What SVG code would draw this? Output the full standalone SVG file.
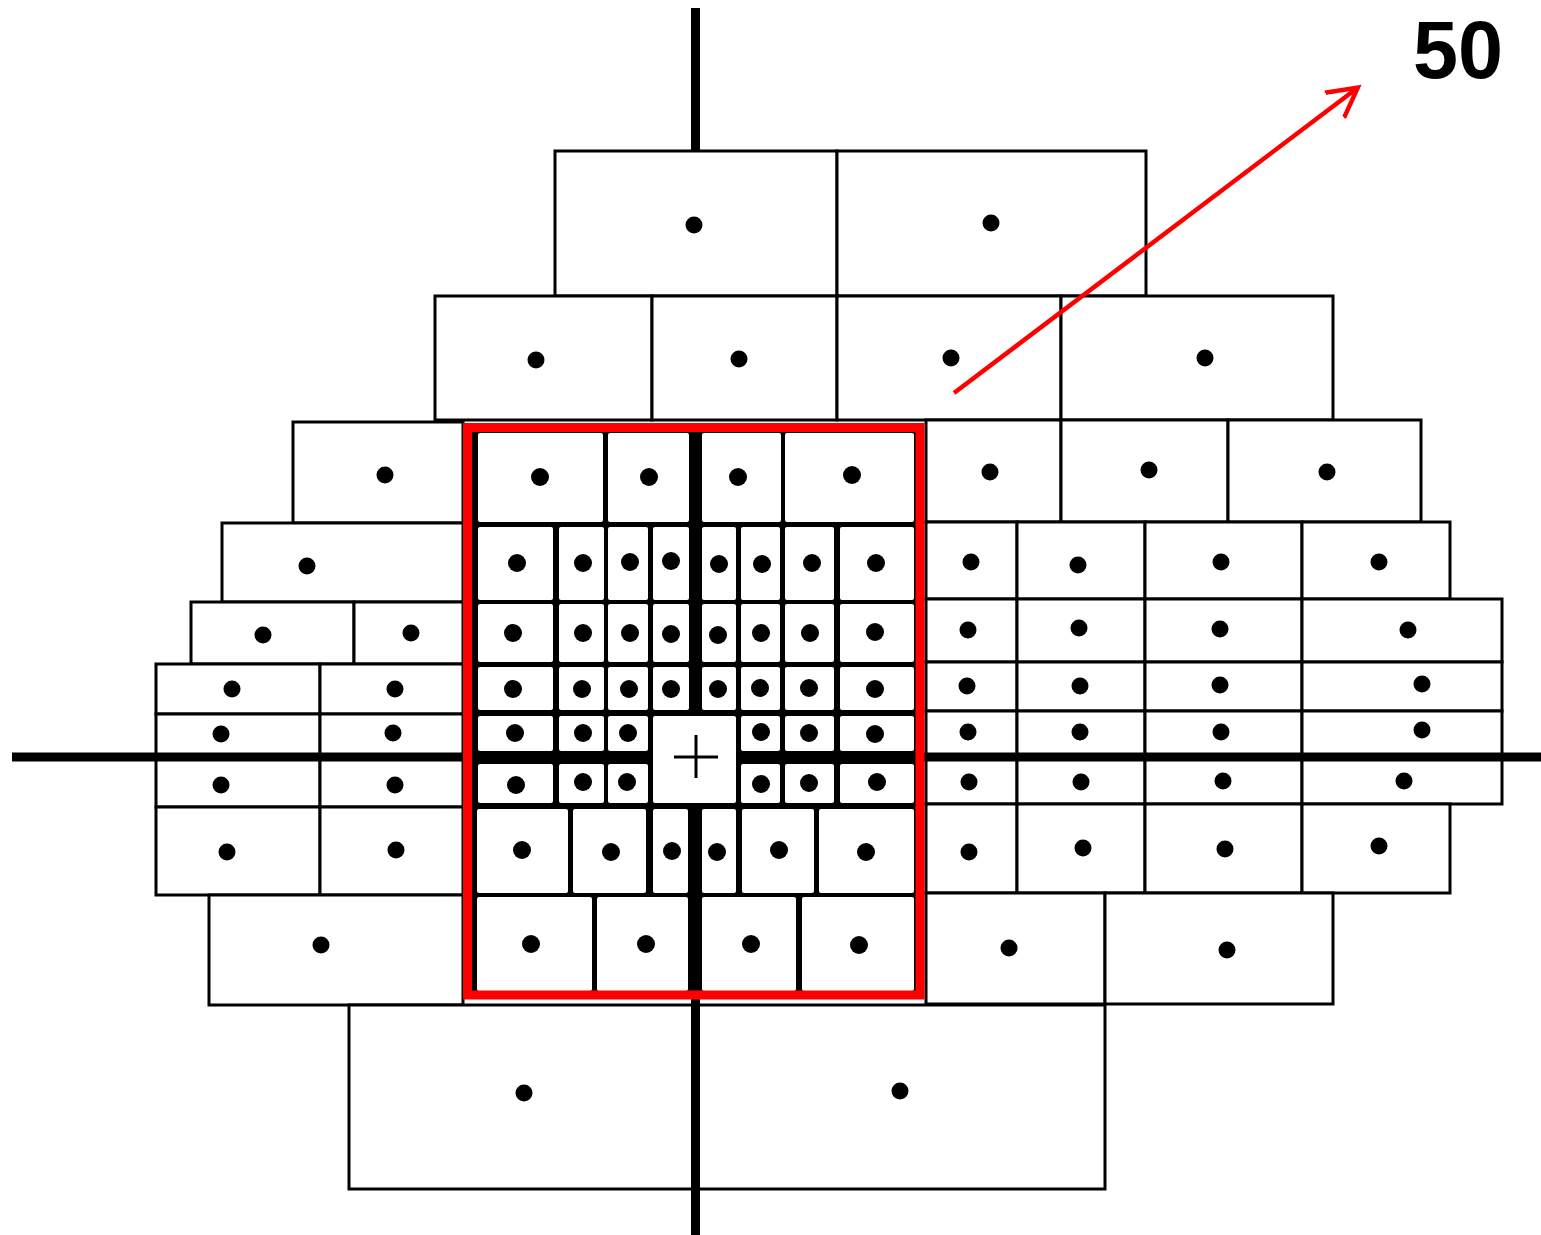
<svg xmlns="http://www.w3.org/2000/svg" width="1541" height="1235" viewBox="0 0 1541 1235">
<style>
.c{fill:#fff;stroke:#000;stroke-width:3}
.i{fill:#fff}
.d{fill:#000}
.ax{stroke:#000;stroke-width:9;fill:none}
.red{fill:none;stroke:#f00;stroke-width:9}
</style>
<defs>
<marker id="ah" markerWidth="8" markerHeight="8" refX="6" refY="4" orient="auto" markerUnits="strokeWidth">
<path d="M0,0.5 L6.5,4 L0,7.5" fill="none" stroke="#f00" stroke-width="1"/>
</marker>
</defs>
<rect width="1541" height="1235" fill="#fff"/>

<g id="outer-cells">
<rect class="c" x="555" y="151" width="282" height="145"/>
<rect class="c" x="837" y="151" width="309" height="145"/>
<rect class="c" x="435" y="296" width="217" height="124"/>
<rect class="c" x="652" y="296" width="185" height="124"/>
<rect class="c" x="837" y="296" width="224" height="124"/>
<rect class="c" x="1061" y="296" width="272" height="124"/>
<rect class="c" x="293" y="422" width="170" height="101"/>
<rect class="c" x="926" y="420" width="135" height="102"/>
<rect class="c" x="1061" y="420" width="167" height="102"/>
<rect class="c" x="1228" y="420" width="193" height="102"/>
<rect class="c" x="222" y="523" width="241" height="79"/>
<rect class="c" x="926" y="522" width="91" height="77"/>
<rect class="c" x="1017" y="522" width="128" height="77"/>
<rect class="c" x="1145" y="522" width="157" height="77"/>
<rect class="c" x="1302" y="522" width="148" height="77"/>
<rect class="c" x="191" y="602" width="163" height="62"/>
<rect class="c" x="354" y="602" width="109" height="62"/>
<rect class="c" x="926" y="599" width="91" height="63"/>
<rect class="c" x="1017" y="599" width="128" height="63"/>
<rect class="c" x="1145" y="599" width="157" height="63"/>
<rect class="c" x="1302" y="599" width="200" height="63"/>
<rect class="c" x="156" y="664" width="164" height="50"/>
<rect class="c" x="320" y="664" width="143" height="50"/>
<rect class="c" x="926" y="662" width="91" height="49"/>
<rect class="c" x="1017" y="662" width="128" height="49"/>
<rect class="c" x="1145" y="662" width="157" height="49"/>
<rect class="c" x="1302" y="662" width="200" height="49"/>
<rect class="c" x="156" y="714" width="164" height="44"/>
<rect class="c" x="320" y="714" width="143" height="44"/>
<rect class="c" x="926" y="711" width="91" height="47"/>
<rect class="c" x="1017" y="711" width="128" height="47"/>
<rect class="c" x="1145" y="711" width="157" height="47"/>
<rect class="c" x="1302" y="711" width="200" height="47"/>
<rect class="c" x="156" y="758" width="164" height="49"/>
<rect class="c" x="320" y="758" width="143" height="49"/>
<rect class="c" x="926" y="758" width="91" height="46"/>
<rect class="c" x="1017" y="758" width="128" height="46"/>
<rect class="c" x="1145" y="758" width="157" height="46"/>
<rect class="c" x="1302" y="758" width="200" height="46"/>
<rect class="c" x="156" y="807" width="164" height="88"/>
<rect class="c" x="320" y="807" width="143" height="88"/>
<rect class="c" x="926" y="804" width="91" height="89"/>
<rect class="c" x="1017" y="804" width="128" height="89"/>
<rect class="c" x="1145" y="804" width="157" height="89"/>
<rect class="c" x="1302" y="804" width="148" height="89"/>
<rect class="c" x="209" y="895" width="254" height="110"/>
<rect class="c" x="926" y="893" width="179" height="111"/>
<rect class="c" x="1105" y="893" width="228" height="111"/>
<rect class="c" x="349" y="1005" width="346" height="184"/>
<rect class="c" x="695" y="1005" width="410" height="184"/>
</g>

<g id="inner-cells">
<rect x="472" y="432" width="446" height="561" fill="#000"/>
<g class="i">
<rect rx="2" x="478" y="433" width="125" height="89"/>
<rect rx="2" x="608" y="433" width="81" height="89"/>
<rect rx="2" x="702" y="433" width="79" height="89"/>
<rect rx="2" x="785" y="433" width="129" height="89"/>

<rect rx="2" x="478" y="527" width="75" height="73"/>
<rect rx="2" x="559" y="527" width="45" height="73"/>
<rect rx="2" x="608" y="527" width="40" height="73"/>
<rect rx="2" x="653" y="527" width="36" height="73"/>
<rect rx="2" x="702" y="527" width="34" height="73"/>
<rect rx="2" x="741" y="527" width="39" height="73"/>
<rect rx="2" x="785" y="527" width="49" height="73"/>
<rect rx="2" x="840" y="527" width="74" height="73"/>

<rect rx="2" x="478" y="604" width="75" height="58"/>
<rect rx="2" x="559" y="604" width="45" height="58"/>
<rect rx="2" x="608" y="604" width="40" height="58"/>
<rect rx="2" x="653" y="604" width="36" height="58"/>
<rect rx="2" x="702" y="604" width="34" height="58"/>
<rect rx="2" x="741" y="604" width="39" height="58"/>
<rect rx="2" x="785" y="604" width="49" height="58"/>
<rect rx="2" x="840" y="604" width="74" height="58"/>

<rect rx="2" x="478" y="667" width="75" height="43"/>
<rect rx="2" x="559" y="667" width="45" height="43"/>
<rect rx="2" x="608" y="667" width="40" height="43"/>
<rect rx="2" x="653" y="667" width="36" height="43"/>
<rect rx="2" x="702" y="667" width="34" height="43"/>
<rect rx="2" x="741" y="667" width="39" height="43"/>
<rect rx="2" x="785" y="667" width="49" height="43"/>
<rect rx="2" x="840" y="667" width="74" height="43"/>

<rect rx="2" x="478" y="716" width="75" height="35"/>
<rect rx="2" x="559" y="716" width="45" height="35"/>
<rect rx="2" x="608" y="716" width="40" height="35"/>
<rect rx="2" x="741" y="716" width="39" height="35"/>
<rect rx="2" x="785" y="716" width="49" height="35"/>
<rect rx="2" x="840" y="716" width="74" height="35"/>

<rect rx="2" x="478" y="764" width="75" height="39"/>
<rect rx="2" x="559" y="764" width="45" height="39"/>
<rect rx="2" x="608" y="764" width="40" height="39"/>
<rect rx="2" x="741" y="764" width="39" height="39"/>
<rect rx="2" x="785" y="764" width="49" height="39"/>
<rect rx="2" x="840" y="764" width="74" height="39"/>

<rect rx="2" x="477" y="809" width="91" height="84"/>
<rect rx="2" x="573" y="809" width="73" height="84"/>
<rect rx="2" x="653" y="809" width="35" height="84"/>
<rect rx="2" x="702" y="809" width="34" height="84"/>
<rect rx="2" x="742" y="809" width="72" height="84"/>
<rect rx="2" x="819" y="809" width="95" height="84"/>

<rect rx="2" x="477" y="897" width="115" height="94"/>
<rect rx="2" x="597" y="897" width="91" height="94"/>
<rect rx="2" x="702" y="897" width="94" height="94"/>
<rect rx="2" x="802" y="897" width="112" height="94"/>
</g>
</g>

<g id="axes">
<line class="ax" x1="695.5" y1="8" x2="695.5" y2="151"/>
<line class="ax" x1="695.5" y1="995" x2="695.5" y2="1235"/>
<line class="ax" x1="12" y1="757" x2="472" y2="757"/>
<line class="ax" x1="918" y1="757" x2="1541" y2="757"/>
</g>

<g id="fixation">
<rect x="653" y="716" width="83" height="87" rx="2" fill="#fff"/>
<path d="M674,757 H718 M696,735 V778" stroke="#000" stroke-width="3" fill="none"/>
</g>

<g id="dots" class="d">
<circle cx="694" cy="225" r="8.5"/><circle cx="991" cy="223" r="8.5"/>
<circle cx="536" cy="360" r="8.5"/><circle cx="739" cy="359" r="8.5"/><circle cx="951" cy="358" r="8.5"/><circle cx="1205" cy="358" r="8.5"/>
<circle cx="385" cy="475" r="8.5"/><circle cx="990" cy="472" r="8.5"/><circle cx="1149" cy="470" r="8.5"/><circle cx="1327" cy="472" r="8.5"/>
<circle cx="307" cy="566" r="8.5"/><circle cx="971" cy="562" r="8.5"/><circle cx="1078" cy="565" r="8.5"/><circle cx="1221" cy="562" r="8.5"/><circle cx="1379" cy="562" r="8.5"/>
<circle cx="263" cy="635" r="8.5"/><circle cx="411" cy="633" r="8.5"/><circle cx="968" cy="630" r="8.5"/><circle cx="1079" cy="628" r="8.5"/><circle cx="1220" cy="629" r="8.5"/><circle cx="1408" cy="630" r="8.5"/>
<circle cx="232" cy="689" r="8.5"/><circle cx="395" cy="689" r="8.5"/><circle cx="967" cy="686" r="8.5"/><circle cx="1080" cy="686" r="8.5"/><circle cx="1220" cy="685" r="8.5"/><circle cx="1422" cy="684" r="8.5"/>
<circle cx="221" cy="734" r="8.5"/><circle cx="393" cy="733" r="8.5"/><circle cx="968" cy="732" r="8.5"/><circle cx="1080" cy="732" r="8.5"/><circle cx="1221" cy="732" r="8.5"/><circle cx="1422" cy="730" r="8.5"/>
<circle cx="221" cy="785" r="8.5"/><circle cx="395" cy="785" r="8.5"/><circle cx="969" cy="782" r="8.5"/><circle cx="1081" cy="782" r="8.5"/><circle cx="1223" cy="781" r="8.5"/><circle cx="1404" cy="781" r="8.5"/>
<circle cx="227" cy="852" r="8.5"/><circle cx="396" cy="850" r="8.5"/><circle cx="969" cy="852" r="8.5"/><circle cx="1083" cy="848" r="8.5"/><circle cx="1225" cy="849" r="8.5"/><circle cx="1379" cy="846" r="8.5"/>
<circle cx="321" cy="945" r="8.5"/><circle cx="1009" cy="948" r="8.5"/><circle cx="1227" cy="950" r="8.5"/>
<circle cx="524" cy="1093" r="8.5"/><circle cx="900" cy="1091" r="8.5"/>

<circle cx="540" cy="477" r="9"/><circle cx="649" cy="477" r="9"/><circle cx="738" cy="477" r="9"/><circle cx="852" cy="475" r="9"/>
<circle cx="517" cy="563" r="9"/><circle cx="583" cy="563" r="9"/><circle cx="630" cy="562" r="9"/><circle cx="671" cy="561" r="9"/><circle cx="719" cy="564" r="9"/><circle cx="762" cy="564" r="9"/><circle cx="812" cy="563" r="9"/><circle cx="876" cy="563" r="9"/>
<circle cx="513" cy="633" r="9"/><circle cx="583" cy="633" r="9"/><circle cx="630" cy="633" r="9"/><circle cx="671" cy="634" r="9"/><circle cx="718" cy="635" r="9"/><circle cx="761" cy="633" r="9"/><circle cx="810" cy="633" r="9"/><circle cx="875" cy="632" r="9"/>
<circle cx="513" cy="689" r="9"/><circle cx="582" cy="689" r="9"/><circle cx="629" cy="689" r="9"/><circle cx="671" cy="689" r="9"/><circle cx="718" cy="689" r="9"/><circle cx="760" cy="688" r="9"/><circle cx="809" cy="688" r="9"/><circle cx="875" cy="689" r="9"/>
<circle cx="515" cy="733" r="9"/><circle cx="583" cy="733" r="9"/><circle cx="628" cy="733" r="9"/><circle cx="761" cy="732" r="9"/><circle cx="809" cy="733" r="9"/><circle cx="875" cy="734" r="9"/>
<circle cx="516" cy="785" r="9"/><circle cx="583" cy="782" r="9"/><circle cx="627" cy="782" r="9"/><circle cx="761" cy="784" r="9"/><circle cx="809" cy="783" r="9"/><circle cx="877" cy="782" r="9"/>
<circle cx="522" cy="850" r="9"/><circle cx="611" cy="852" r="9"/><circle cx="672" cy="851" r="9"/><circle cx="717" cy="852" r="9"/><circle cx="779" cy="850" r="9"/><circle cx="866" cy="852" r="9"/>
<circle cx="531" cy="944" r="9"/><circle cx="646" cy="944" r="9"/><circle cx="751" cy="944" r="9"/><circle cx="859" cy="945" r="9"/>
</g>

<g id="highlight">
<rect class="red" x="467.5" y="427.5" width="452.5" height="567.5"/>
</g>

<g id="connectors">
<line x1="954" y1="393" x2="1356" y2="89" stroke="#f00" stroke-width="4.5" marker-end="url(#ah)"/>
</g>

<g id="label">
<text x="1413" y="78" font-family="'Liberation Sans', Arial, sans-serif" font-weight="bold" font-size="81" fill="#000">50</text>
</g>
</svg>
